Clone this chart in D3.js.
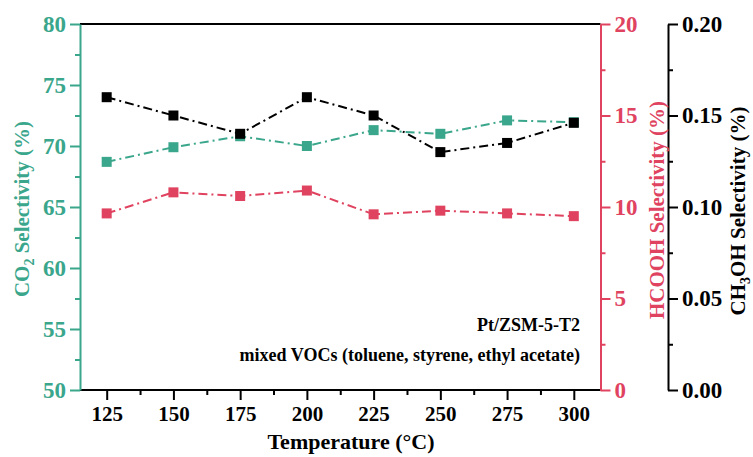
<!DOCTYPE html>
<html lang="en">
<head>
<meta charset="UTF-8">
<title>Selectivity vs temperature</title>
<script src="https://cdn.jsdelivr.net/npm/d3@7"></script>
<style>
  body { margin: 0; background: #fff; }
  text { font-family: "Liberation Serif", "Times New Roman", serif; font-weight: bold; }
</style>
</head>
<body>
<script>
var temps = [125, 150, 175, 200, 225, 250, 275, 300];
var co2 = [68.7, 69.9, 70.8, 70.0, 71.3, 71.0, 72.1, 71.95];
var hcooh = [9.65, 10.8, 10.6, 10.9, 9.6, 9.8, 9.65, 9.5];
var ch3oh = [0.160, 0.150, 0.140, 0.160, 0.150, 0.130, 0.135, 0.146];

var xTicks = [125, 150, 175, 200, 225, 250, 275, 300];
var co2Ticks = [50, 55, 60, 65, 70, 75, 80];
var hcoohTicks = [0, 5, 10, 15, 20];
var ch3ohTicks = [0, 0.05, 0.10, 0.15, 0.20];

(function () {
  var green = '#3aa68b', pink = '#e0435f', black = '#000';

  var W = 753, H = 457;
  var m = { left: 80, right: 600.5, top: 24, bottom: 390, far: 668 };

  var svg = d3.select('body').append('svg')
    .attr('width', W).attr('height', H);

  var x = d3.scaleLinear().domain([115, 310]).range([m.left, m.right]);
  var yCo2 = d3.scaleLinear().domain([50, 80]).range([m.bottom, m.top]);
  var yHc = d3.scaleLinear().domain([0, 20]).range([m.bottom, m.top]);
  var yMe = d3.scaleLinear().domain([0, 0.2]).range([m.bottom, m.top]);

  function minors(ticks) {
    var out = [];
    for (var i = 0; i < ticks.length - 1; i++) out.push((ticks[i] + ticks[i + 1]) / 2);
    return out;
  }

  function styleAxis(g, color, size) {
    g.select('.domain').attr('stroke', color).attr('stroke-width', 2);
    g.selectAll('.tick line').attr('stroke', color).attr('stroke-width', 2);
    g.selectAll('.tick text').attr('fill', color)
      .style('font-size', size + 'px')
      .style('font-family', '"Liberation Serif", serif').style('font-weight', 'bold');
  }

  function minorAxis(axis, pos, vals, color) {
    svg.append('g').attr('transform', pos)
      .call(axis.tickValues(vals).tickSize(5).tickFormat(''))
      .call(function (g) {
        g.select('.domain').remove();
        g.selectAll('.tick line').attr('stroke', color).attr('stroke-width', 2);
      });
  }

  // top frame line
  svg.append('line').attr('x1', m.left).attr('x2', m.right).attr('y1', m.top).attr('y2', m.top)
    .attr('stroke', black).attr('stroke-width', 2);

  // x axis
  minorAxis(d3.axisBottom(x), 'translate(0,' + m.bottom + ')', minors(xTicks), black);
  var gx = svg.append('g').attr('transform', 'translate(0,' + m.bottom + ')')
    .call(d3.axisBottom(x).tickValues(xTicks).tickSize(10).tickPadding(6).tickSizeOuter(0));
  styleAxis(gx, black, 21);
  gx.select('.domain').attr('d', 'M' + m.left + ',0H' + m.right);

  // left CO2 axis
  minorAxis(d3.axisLeft(yCo2), 'translate(' + m.left + ',0)', minors(co2Ticks), green);
  var gl = svg.append('g').attr('transform', 'translate(' + m.left + ',0)')
    .call(d3.axisLeft(yCo2).tickValues(co2Ticks).tickSize(10).tickPadding(4).tickSizeOuter(0));
  styleAxis(gl, green, 23);

  // right HCOOH axis
  minorAxis(d3.axisRight(yHc), 'translate(' + m.right + ',0)', minors(hcoohTicks), pink);
  var gr = svg.append('g').attr('transform', 'translate(' + m.right + ',0)')
    .call(d3.axisRight(yHc).tickValues(hcoohTicks).tickSize(10).tickPadding(4).tickSizeOuter(0));
  styleAxis(gr, pink, 23);

  // far right CH3OH axis
  minorAxis(d3.axisRight(yMe), 'translate(' + m.far + ',0)', minors(ch3ohTicks), black);
  var gm = svg.append('g').attr('transform', 'translate(' + m.far + ',0)')
    .call(d3.axisRight(yMe).tickValues(ch3ohTicks).tickSize(10).tickPadding(4).tickSizeOuter(0).tickFormat(d3.format('.2f')));
  styleAxis(gm, black, 23);

  // series
  function drawSeries(vals, yScale, color) {
    var pts = temps.map(function (t, i) { return [t, vals[i]]; });
    svg.append('path').datum(pts)
      .attr('fill', 'none').attr('stroke', color).attr('stroke-width', 2)
      .attr('stroke-dasharray', '9,4,2,4')
      .attr('d', d3.line().x(function (d) { return x(d[0]); }).y(function (d) { return yScale(d[1]); }));
    svg.selectAll(null).data(pts).enter().append('rect')
      .attr('x', function (d) { return x(d[0]) - 5; })
      .attr('y', function (d) { return yScale(d[1]) - 5; })
      .attr('width', 10).attr('height', 10)
      .attr('fill', color);
  }
  drawSeries(hcooh, yHc, pink);
  drawSeries(co2, yCo2, green);
  drawSeries(ch3oh, yMe, black);

  // titles
  svg.append('text').attr('x', 351).attr('y', 449)
    .attr('text-anchor', 'middle').style('font-size', '22px').text('Temperature (\u00b0C)');

  var t1 = svg.append('text').attr('transform', 'translate(29,209) rotate(-90)')
    .attr('text-anchor', 'middle').attr('fill', green).style('font-size', '21px');
  t1.append('tspan').text('CO');
  t1.append('tspan').attr('dy', 5).style('font-size', '14px').text('2');
  t1.append('tspan').attr('dy', -5).text(' Selectivity (%)');

  svg.append('text').attr('transform', 'translate(664,210) rotate(-90)')
    .attr('text-anchor', 'middle').attr('fill', pink).style('font-size', '21px')
    .text('HCOOH Selectivity (%)');

  var t3 = svg.append('text').attr('transform', 'translate(745,211) rotate(-90)')
    .attr('text-anchor', 'middle').attr('fill', black).style('font-size', '21px');
  t3.append('tspan').text('CH');
  t3.append('tspan').attr('dy', 5).style('font-size', '14px').text('3');
  t3.append('tspan').attr('dy', -5).text('OH Selectivity (%)');

  // annotation
  svg.append('text').attr('x', 580).attr('y', 331).attr('text-anchor', 'end')
    .style('font-size', '18px').text('Pt/ZSM-5-T2');
  svg.append('text').attr('x', 580).attr('y', 361).attr('text-anchor', 'end')
    .style('font-size', '18px').text('mixed VOCs (toluene, styrene, ethyl acetate)');
})();
</script>
</body>
</html>
